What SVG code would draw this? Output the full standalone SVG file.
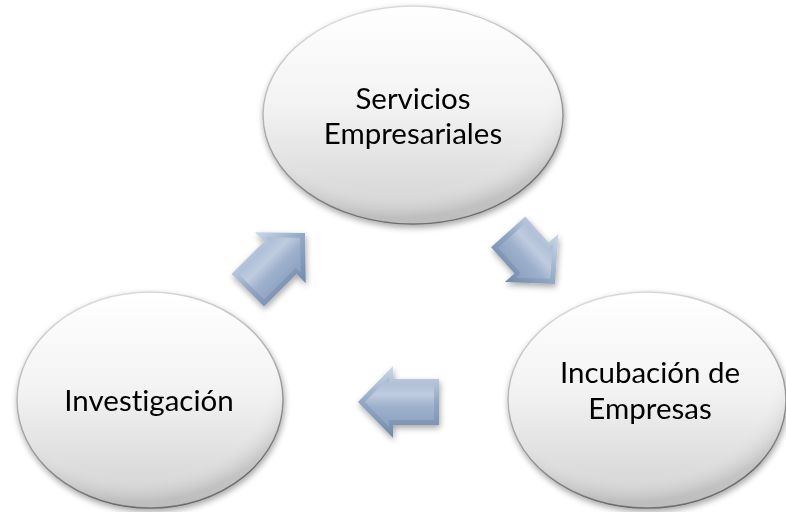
<svg xmlns="http://www.w3.org/2000/svg" width="786" height="512" viewBox="0 0 786 512">
  <defs>
    <linearGradient id="ellFill" x1="0" y1="0" x2="0" y2="1">
      <stop offset="0" stop-color="#ffffff"/>
      <stop offset="0.45" stop-color="#f3f3f3"/>
      <stop offset="1" stop-color="#d0d0d0"/>
    </linearGradient>
    <radialGradient id="ellShade" cx="0.45" cy="0.35" r="0.62">
      <stop offset="0.8" stop-color="#ffffff" stop-opacity="0"/>
      <stop offset="1" stop-color="#9a9a9a" stop-opacity="0.35"/>
    </radialGradient>
    <linearGradient id="ellStroke" x1="0" y1="0" x2="0.3" y2="1">
      <stop offset="0" stop-color="#e6e6e6"/>
      <stop offset="0.5" stop-color="#b0b0b0"/>
      <stop offset="1" stop-color="#666666"/>
    </linearGradient>
    <linearGradient id="arrOuter" x1="0" y1="0" x2="0" y2="1">
      <stop offset="0" stop-color="#cdd8e8"/>
      <stop offset="0.5" stop-color="#94a8c5"/>
      <stop offset="1" stop-color="#728aab"/>
    </linearGradient>
    <linearGradient id="arrInner" x1="0" y1="0" x2="0" y2="1">
      <stop offset="0" stop-color="#a6b8d2"/>
      <stop offset="0.35" stop-color="#bfcce0"/>
      <stop offset="0.6" stop-color="#9db0cc"/>
      <stop offset="1" stop-color="#8ca1c0"/>
    </linearGradient>
    <filter id="shadow" x="-20%" y="-20%" width="140%" height="140%">
      <feGaussianBlur in="SourceAlpha" stdDeviation="3"/>
      <feOffset dx="1" dy="3" result="b"/>
      <feComponentTransfer><feFuncA type="linear" slope="0.35"/></feComponentTransfer>
      <feMerge><feMergeNode/><feMergeNode in="SourceGraphic"/></feMerge>
    </filter>
    <g id="arrowShape">
      <polygon points="0,0 -35,-36 -35,-23 -81,-23 -81,23 -35,23 -35,36" fill="url(#arrOuter)"/>
      <polygon points="-7,0 -31,-25 -31,-18 -76,-18 -76,18 -31,18 -31,25" fill="url(#arrInner)"/>
    </g>
    <g id="arrowShort">
      <polygon points="0,0 -35,-36 -35,-23 -70,-23 -70,23 -35,23 -35,36" fill="url(#arrOuter)"/>
      <polygon points="-7,0 -31,-25 -31,-18 -65,-18 -65,18 -31,18 -31,25" fill="url(#arrInner)"/>
    </g>
  </defs>
  <style>
    .ell { fill: url(#ellFill); stroke: url(#ellStroke); stroke-width: 1.5; }
    .shade { fill: url(#ellShade); stroke: none; }
    .lbl { font-family: Lato, "Liberation Sans", sans-serif; font-size: 29.5px; fill: #000000; text-anchor: middle; font-variant-ligatures: none; }
  </style>
  <rect width="786" height="512" fill="#ffffff"/>

  <g id="connectors">
    <g id="arrow-servicios-incubacion" filter="url(#shadow)">
      <use href="#arrowShort" transform="translate(555,284) rotate(48)"/>
    </g>
    <g id="arrow-incubacion-investigacion" filter="url(#shadow)">
      <use href="#arrowShape" transform="translate(358,402) rotate(180) scale(1,-1)"/>
    </g>
    <g id="arrow-investigacion-servicios" filter="url(#shadow)">
      <use href="#arrowShape" transform="translate(305,233) rotate(-45)"/>
    </g>
  </g>

  <g id="node-servicios" filter="url(#shadow)">
    <ellipse class="ell" cx="413" cy="115" rx="150" ry="109"/>
    <ellipse class="shade" cx="413" cy="115" rx="150" ry="109"/>
    <text class="lbl" x="413" y="109">Servicios</text>
    <text class="lbl" x="413" y="144">Empresariales</text>
  </g>

  <g id="node-investigacion" filter="url(#shadow)">
    <ellipse class="ell" cx="150" cy="400" rx="133" ry="108"/>
    <ellipse class="shade" cx="150" cy="400" rx="133" ry="108"/>
    <text class="lbl" x="149" y="411">Investigación</text>
  </g>

  <g id="node-incubacion" filter="url(#shadow)">
    <ellipse class="ell" cx="647" cy="400" rx="139" ry="108"/>
    <ellipse class="shade" cx="647" cy="400" rx="139" ry="108"/>
    <text class="lbl" x="650" y="383">Incubación de</text>
    <text class="lbl" x="650" y="419">Empresas</text>
  </g>
</svg>
